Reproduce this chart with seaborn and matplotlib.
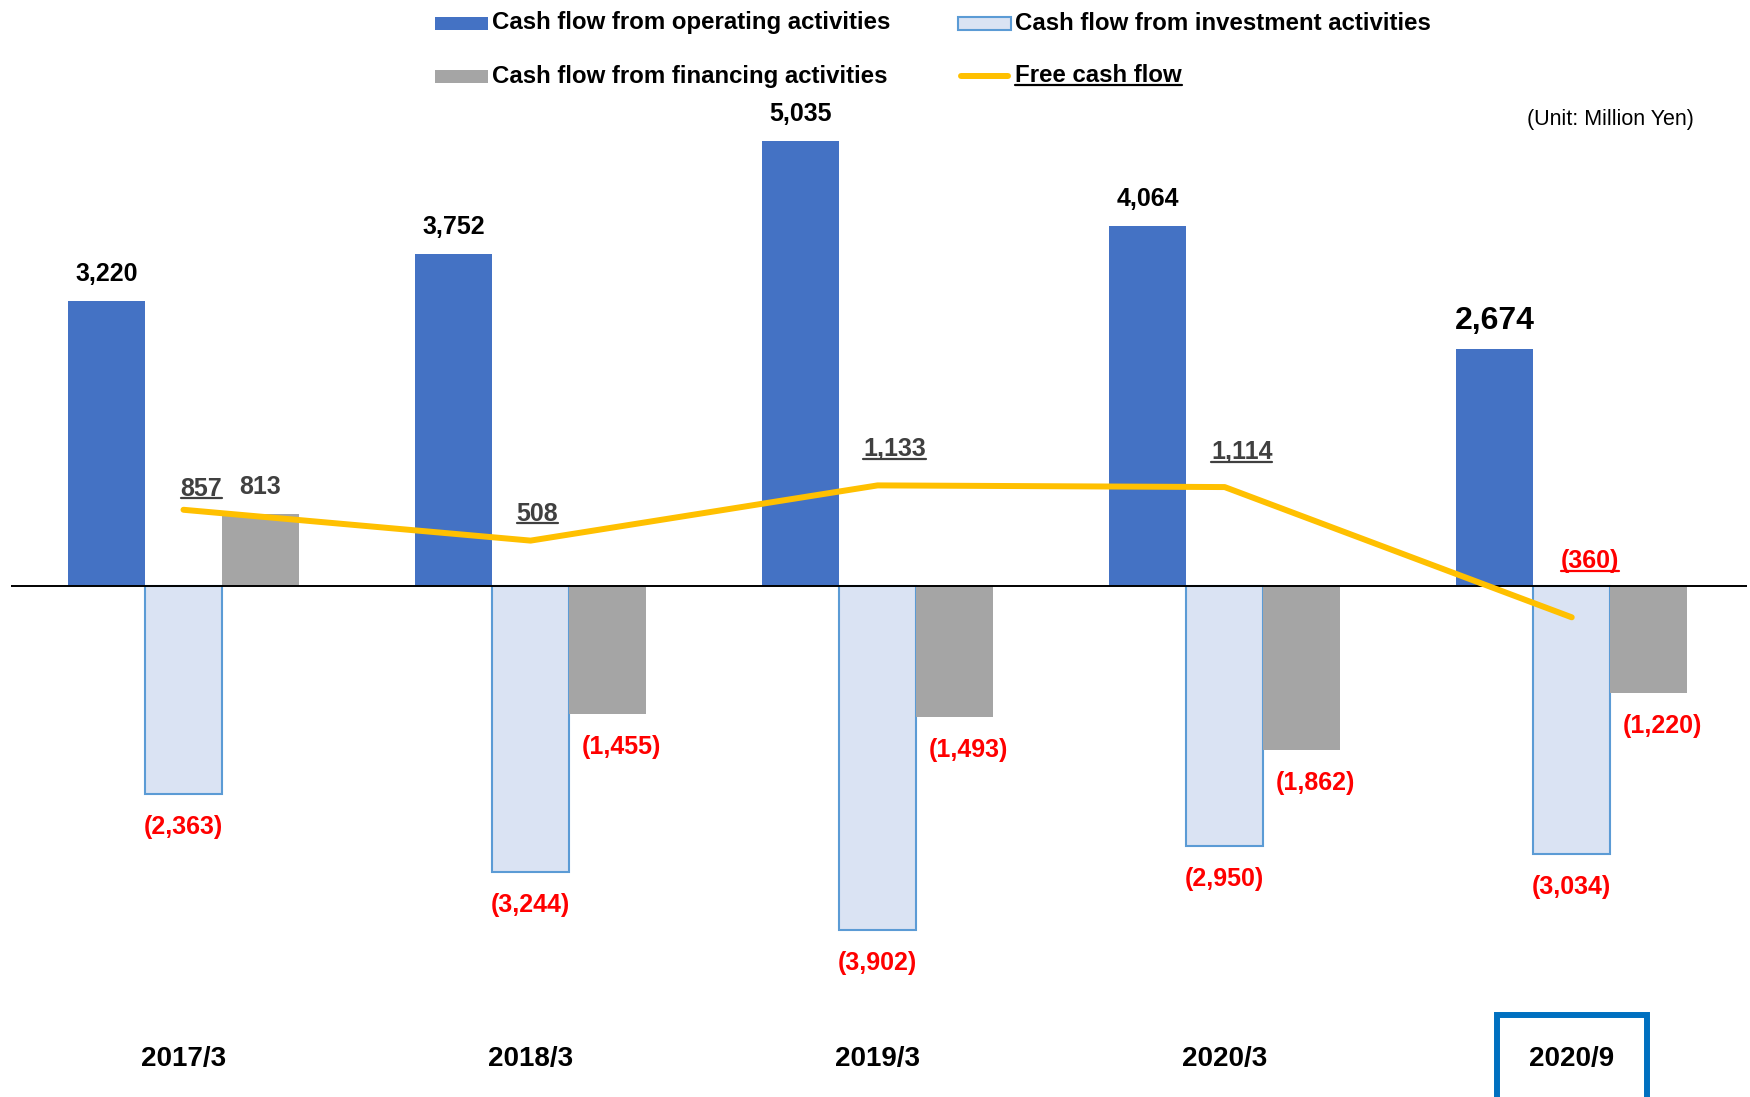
import numpy as np
import pandas as pd
import matplotlib
matplotlib.use("Agg")
import matplotlib.pyplot as plt
import matplotlib.transforms as mtransforms
from matplotlib.patches import Rectangle
from matplotlib.lines import Line2D
import seaborn as sns

# ---- data (million yen) ----
periods = ["2017/3", "2018/3", "2019/3", "2020/3", "2020/9"]
operating = [3220, 3752, 5035, 4064, 2674]
investment = [-2363, -3244, -3902, -2950, -3034]
financing = [813, -1455, -1493, -1862, -1220]
free_cf = [857, 508, 1133, 1114, -360]

series_names = ["Cash flow from operating activities",
                "Cash flow from investment activities",
                "Cash flow from financing activities"]
fcf_name = "Free cash flow"
unit_note = "(Unit: Million Yen)"

# ---- styling ----
C_OP = "#4472C4"
C_INV = "#DAE3F3"
C_INV_EDGE = "#5B9BD5"
C_FIN = "#A5A5A5"
C_FCF = "#FFC000"
C_RED = "#FF0000"
C_DARK = "#404040"
C_BOX = "#0070C0"

W, H, DPI = 1750, 1097, 100

sns.set_theme(style="white")
plt.rcParams["font.family"] = ["Liberation Sans", "DejaVu Sans"]


def fmt(v):
    return f"({abs(v):,})" if v < 0 else f"{v:,}"


df = pd.DataFrame({
    "period": periods * 3,
    "series": np.repeat(series_names, len(periods)),
    "value": operating + investment + financing,
})

fig = plt.figure(figsize=(W / DPI, H / DPI), dpi=DPI)
ax = fig.add_axes([11 / W, (H - 1000) / H, 1736 / W, 900 / H])

sns.barplot(data=df, x="period", y="value", hue="series",
            order=periods, hue_order=series_names,
            palette={series_names[0]: C_OP, series_names[1]: C_INV,
                     series_names[2]: C_FIN},
            width=0.666, saturation=1, errorbar=None, legend=False,
            linewidth=0, ax=ax, zorder=2)

# investment bars: pale fill with a blue outline
for bar in ax.containers[1]:
    bar.set_facecolor(C_INV)
    bar.set_edgecolor(C_INV_EDGE)
    bar.set_linewidth(1.5)

ax.axhline(0, color="black", lw=1.4, zorder=3)

sns.lineplot(x=np.arange(len(periods)), y=free_cf, color=C_FCF, lw=4.3,
             sort=False, ax=ax, zorder=4, solid_capstyle="round")

ax.set_xlim(-0.497, 4.505)
ax.set_ylim(-4691, 5494.6)
ax.set_xlabel("")
ax.set_ylabel("")
ax.set_yticks([])
ax.set_xticks(range(len(periods)))
ax.set_xticklabels(periods, fontsize=20, fontweight="bold", color="black")
ax.tick_params(axis="x", length=0, pad=33)
for s in ax.spines.values():
    s.set_visible(False)

# ---- value labels ----
op_bars = list(ax.containers[0])
inv_bars = list(ax.containers[1])
fin_bars = list(ax.containers[2])


def bar_label(bar, value, color, size=18, dx=0):
    x = bar.get_x() + bar.get_width() / 2
    dy = 20 if value >= 0 else -40
    ax.annotate(fmt(value), (x, value), xytext=(dx, dy),
                textcoords="offset pixels", ha="center", va="baseline",
                fontsize=size, fontweight="bold", color=color,
                annotation_clip=False, zorder=6)


for i, (b, v) in enumerate(zip(op_bars, operating)):
    bar_label(b, v, "black", size=23 if i == len(operating) - 1 else 18)
for b, v in zip(inv_bars, investment):
    bar_label(b, v, C_RED)
for b, v in zip(fin_bars, financing):
    bar_label(b, v, C_DARK if v >= 0 else C_RED, dx=0 if v >= 0 else 14)

# free cash flow labels (underlined), nudged off the line
fcf_dx = [18, 7, 17, 17, 18]
fcf_dy = [14, 20, 29, 28, 49]
fcf_texts = []
for i, v in enumerate(free_cf):
    t = ax.annotate(fmt(v), (i, v), xytext=(fcf_dx[i], fcf_dy[i]),
                    textcoords="offset pixels", ha="center", va="baseline",
                    fontsize=18, fontweight="bold",
                    color=C_RED if v < 0 else C_DARK,
                    annotation_clip=False, zorder=6)
    fcf_texts.append(t)

# box around the latest period label
box_tr = mtransforms.blended_transform_factory(ax.transData, fig.transFigure)
ax.add_patch(Rectangle((4 - 0.216, -0.05), 0.432, 1 - 1015 / H + 0.05,
                       transform=box_tr, fill=False, edgecolor=C_BOX,
                       lw=4.3, clip_on=False, zorder=5))

# unit note
fig.text(1694 / W, 1 - 120 / H, unit_note, ha="right", va="center",
         fontsize=15.5, color="black")

# ---- legend ----
LEG_FS = 17.3
rows_y = [23, 76]
col_x = [435, 958]
entries = [
    (col_x[0], rows_y[0], "patch", C_OP, None, series_names[0]),
    (col_x[1], rows_y[0], "patch", C_INV, C_INV_EDGE, series_names[1]),
    (col_x[0], rows_y[1], "patch", C_FIN, None, series_names[2]),
    (col_x[1], rows_y[1], "line", C_FCF, None, fcf_name),
]
legend_texts = {}
for x0, yc, kind, fc, ec, label in entries:
    yb = H - yc
    if kind == "patch":
        fig.add_artist(Rectangle((x0, yb - 6.5), 53, 13, transform=None,
                                 facecolor=fc,
                                 edgecolor=ec if ec else fc,
                                 lw=1.5 if ec else 0))
    else:
        fig.add_artist(Line2D([x0 + 3, x0 + 50], [yb, yb], transform=None,
                              color=fc, lw=4.3, solid_capstyle="round"))
    t = fig.text((x0 + 57) / W, 1 - yc / H, label, ha="left",
                 va="center", fontsize=LEG_FS, fontweight="bold",
                 color="black")
    legend_texts[label] = t

# ---- underlines ----
fig.canvas.draw()
renderer = fig.canvas.get_renderer()


def underline(t, color):
    bb = t.get_window_extent(renderer)
    fs_px = t.get_fontsize() * DPI / 72
    y = bb.y0 + 0.10 * fs_px
    fig.add_artist(Line2D([bb.x0, bb.x1], [y, y], transform=None,
                          color=color, lw=1.6))


for t, v in zip(fcf_texts, free_cf):
    underline(t, C_RED if v < 0 else C_DARK)
underline(legend_texts[fcf_name], "black")

fig.savefig("out.png", dpi=DPI, facecolor="white")
